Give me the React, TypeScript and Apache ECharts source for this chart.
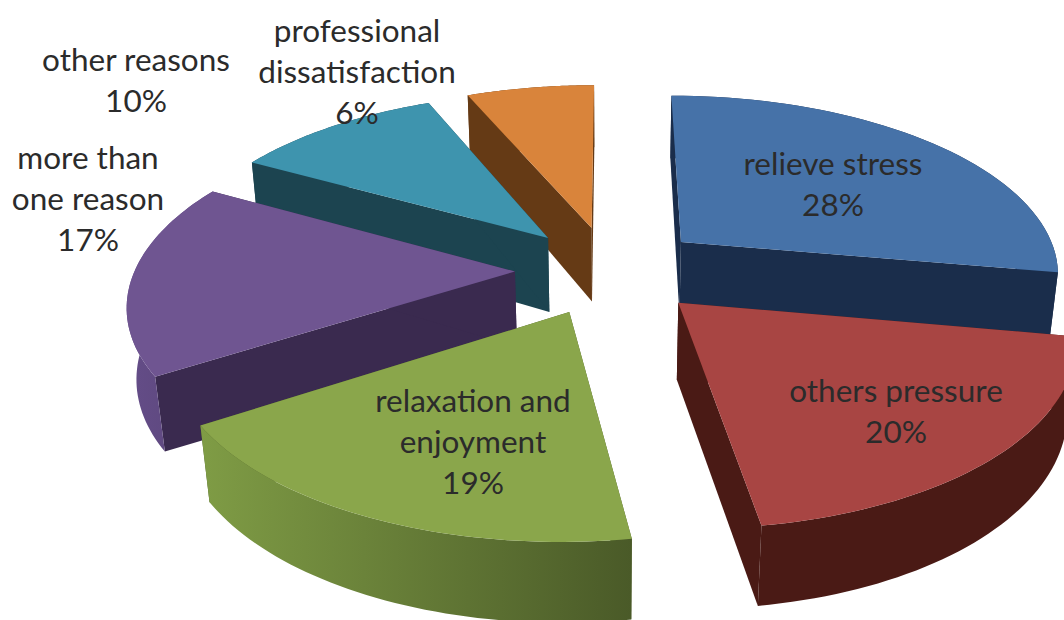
import React, { useEffect, useRef } from "react";
import * as echarts from "echarts";

const categories = ["relieve stress", "others pressure", "relaxation and enjoyment", "more than one reason", "other reasons", "professional dissatisfaction"];
const values = [28, 20, 19, 17, 10, 6];
const drawOrder = [5, 4, 0, 3, 1, 2];
const topColors = ["#4672A8", "#A84543", "#8AA64B", "#6F5591", "#3E94AE", "#D9843B"];
const wallColors = ["#1A2D4B", "#4A1A15", "#4A5A28", "#3A2A4F", "#1C4450", "#653A15"];
const outerStops: string[][] = [
  ["#1A2D4B", "#1A2D4B"],
  ["#4A1A15", "#4A1A15"],
  ["#7F9C45", "#4A5A28"],
  ["#644D88", "#5A4478"],
  ["#1C4450", "#1C4450"],
  ["#653A15", "#653A15"],
];
const labelLines = [
  ["relieve stress", "28%"],
  ["others pressure", "20%"],
  ["relaxation and", "enjoyment", "19%"],
  ["more than", "one reason", "17%"],
  ["other reasons", "10%"],
  ["professional", "dissatisfaction", "6%"],
];
const labelCentres = [[833, 183], [896, 410], [473, 440.5], [88, 197.5], [136, 79], [357, 70.5]];

// Small angular correction (degrees) at each slice boundary, for the camera's view of the pie.
const boundaryShift = [0, 0.8, 1.4, 3.8, 3.5, 1.6, 0];
const CX = 610, CY = 270, A = 380, B = 178, C = 72, K = 0.16, M = 0.02, EXPLODE = 0.25, APEX_DEPTH = 1.07;

function project(u: number, v: number, h: number): number[] {
  const w = 1 + K * v + M * h;
  return [CX + (A * u) / w, CY - (B * v - C * h) / w];
}

function sliceShapes(index: number) {
  const total = values.reduce((s, x) => s + x, 0);
  const before = values.slice(0, index).reduce((s, x) => s + x, 0);
  const a0 = ((before / total) * 360 - boundaryShift[index]) * (Math.PI / 180);
  const a1 = (((before + values[index]) / total) * 360 - boundaryShift[index + 1]) * (Math.PI / 180);
  const mid = (a0 + a1) / 2;
  const ou = EXPLODE * Math.sin(mid), ov = EXPLODE * Math.cos(mid);
  const steps = 48;
  const top: number[][] = [];
  const bottom: number[][] = [];
  for (let i = 0; i <= steps; i++) {
    const t = a0 + ((a1 - a0) * i) / steps;
    top.push(project(ou + Math.sin(t), ov + Math.cos(t), 0));
    bottom.push(project(ou + Math.sin(t), ov + Math.cos(t), 1));
  }
  const apexTop = project(ou, ov, 0);
  const apexBottom = project(ou, ov, APEX_DEPTH);
  return {
    face: [apexTop, ...top],
    outer: [...top, ...bottom.slice().reverse()],
    wallA: [apexTop, top[0], bottom[0], apexBottom],
    wallB: [apexTop, top[steps], bottom[steps], apexBottom],
  };
}

function renderItem(params: any) {
  const index = drawOrder[params.dataIndex];
  const s = sliceShapes(index);
  const poly = (points: number[][], fill: any) => ({
    type: "polygon",
    shape: { points },
    style: { fill, stroke: null },
  });
  const grad = new echarts.graphic.LinearGradient(0, 0, 1, 0, [
    { offset: 0, color: outerStops[index][0] },
    { offset: 1, color: outerStops[index][1] },
  ]);
  return {
    type: "group",
    children: [
      poly(s.wallA, wallColors[index]),
      poly(s.wallB, wallColors[index]),
      poly(s.outer, grad),
      poly(s.face, topColors[index]),
    ],
  };
}

export default function App() {
  const ref = useRef<HTMLDivElement>(null);
  useEffect(() => {
    document.body.style.margin = "0";
    const chart = echarts.init(ref.current!, undefined, { renderer: "svg" });
    chart.setOption({
      animation: false,
      backgroundColor: "#ffffff",
      series: [
        {
          type: "custom",
          coordinateSystem: "none",
          silent: true,
          renderItem,
          data: drawOrder.map((i) => ({ name: categories[i], value: [values[i]] })),
        },
      ],
      graphic: labelLines.map((lines, i) => ({
        type: "text",
        x: labelCentres[i][0],
        y: labelCentres[i][1],
        z: 10,
        style: {
          text: lines.join("\n"),
          fontFamily: "Lato",
          fontSize: 31.5,
          lineHeight: 41,
          fill: "#2b2b2b",
          align: "center",
          verticalAlign: "middle",
        },
      })),
    });
    return () => chart.dispose();
  }, []);
  return <div ref={ref} style={{ width: 1064, height: 620 }} />;
}
